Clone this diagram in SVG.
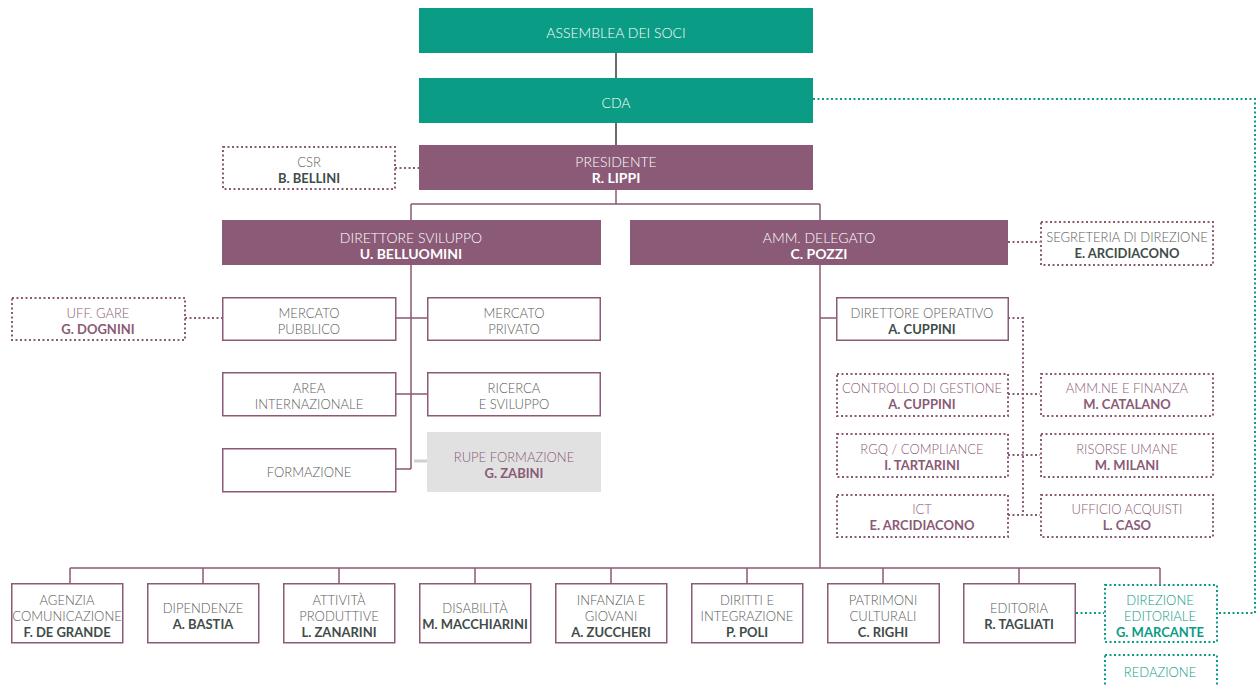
<svg xmlns="http://www.w3.org/2000/svg" width="1257" height="686" viewBox="0 0 1257 686">
<style>
.teal{fill:#0b9c85}
.purp{fill:#8a5a76}
.wbox{fill:#fff;stroke:#8a5a76;stroke-width:1.5}
.dbox{fill:#fff;stroke:#8a5a76;stroke-width:2;stroke-dasharray:2 2.5}
.gbox{fill:#fff;stroke:#0b9c85;stroke-width:2;stroke-dasharray:2 2.5}
.grey{fill:#e1e1e2}
.line{stroke:#8a5a76;stroke-width:1.5;fill:none}
.dark{stroke:#3a3a3a;stroke-width:1.5;fill:none}
.stub{stroke:#cfcfd1;stroke-width:3;fill:none}
.dline{stroke:#8a5a76;stroke-width:2;stroke-dasharray:2 2.5;fill:none}
.gline{stroke:#0b9c85;stroke-width:2;stroke-dasharray:2 2.5;fill:none}
text{font-family:Lato,"Open Sans","Liberation Sans",sans-serif;font-size:13px;text-anchor:middle}
.l{font-weight:300}
.b{font-weight:700}
.w{fill:#fff}
.g{fill:#5b5b5b}
.n{fill:#3f4c4a}
.p{fill:#8a5a76}
.t{fill:#0b9c85}
.big{font-size:14px}
</style>

<g id="connectors">
  <path class="dark" d="M616 53V78M616 123V145"/>
  <path class="line" d="M616 190V204M411 204H820M411 204V220M820 204V220"/>
  <path class="line" d="M411 265V469M396 318H427M396 394H427M396 469H411"/>
  <path class="stub" d="M414 461H427"/>
  <path class="line" d="M820 265V568M820 318H836"/>
  <path class="line" d="M70 568H1160M70 568V584M203 568V584M339 568V584M475 568V584M611 568V584M747 568V584M883 568V584M1019 568V584M1160 568V584"/>
  <path class="dline" d="M395 168H419M185 318H222M1008 242H1040"/>
  <path class="dline" d="M1008 318H1023V515M1008 394H1040M1008 455H1040M1008 515H1040"/>
  <path class="gline" d="M813 99H1255V613H1217M1076 613H1104"/>
</g>

<g id="assemblea"><rect class="teal" x="419" y="8" width="394" height="45"/><text class="l w big" x="616" y="38">ASSEMBLEA DEI SOCI</text></g>
<g id="cda"><rect class="teal" x="419" y="78" width="394" height="45"/><text class="l w big" x="616" y="108">CDA</text></g>
<g id="presidente"><rect class="purp" x="419" y="145" width="394" height="45"/><text class="l w big" x="616" y="167">PRESIDENTE</text><text class="b w big" x="616" y="183">R. LIPPI</text></g>
<g id="csr"><rect class="dbox" x="223" y="147" width="172" height="42"/><text class="l g" x="309" y="167">CSR</text><text class="b n" x="309" y="183">B. BELLINI</text></g>

<g id="dir-sviluppo"><rect class="purp" x="222" y="220" width="379" height="45"/><text class="l w big" x="411" y="243">DIRETTORE SVILUPPO</text><text class="b w big" x="411" y="259">U. BELLUOMINI</text></g>
<g id="amm-delegato"><rect class="purp" x="630" y="220" width="378" height="45"/><text class="l w big" x="819" y="243">AMM. DELEGATO</text><text class="b w big" x="819" y="259">C. POZZI</text></g>
<g id="segreteria"><rect class="dbox" x="1041" y="222" width="172" height="43"/><text class="l g" x="1127" y="242">SEGRETERIA DI DIREZIONE</text><text class="b n" x="1127" y="258">E. ARCIDIACONO</text></g>

<g id="uff-gare"><rect class="dbox" x="12" y="298" width="173" height="42"/><text class="l p" x="98" y="318">UFF. GARE</text><text class="b p" x="98" y="334">G. DOGNINI</text></g>
<g id="mercato-pubblico"><rect class="wbox" x="222.75" y="297.75" width="173" height="42.5"/><text class="l g" x="309" y="318">MERCATO</text><text class="l g" x="309" y="334">PUBBLICO</text></g>
<g id="mercato-privato"><rect class="wbox" x="427.75" y="297.75" width="172.5" height="42.5"/><text class="l g" x="514" y="318">MERCATO</text><text class="l g" x="514" y="334">PRIVATO</text></g>
<g id="area-internazionale"><rect class="wbox" x="222.75" y="372.75" width="173" height="43"/><text class="l g" x="309" y="393">AREA</text><text class="l g" x="309" y="409">INTERNAZIONALE</text></g>
<g id="ricerca-sviluppo"><rect class="wbox" x="427.75" y="372.75" width="172.5" height="43"/><text class="l g" x="514" y="393">RICERCA</text><text class="l g" x="514" y="409">E SVILUPPO</text></g>
<g id="formazione"><rect class="wbox" x="222.75" y="448.75" width="173" height="43"/><text class="l g" x="309" y="477">FORMAZIONE</text></g>
<g id="rupe-formazione"><rect class="grey" x="427" y="432" width="174" height="60"/><text class="l p" x="514" y="462">RUPE FORMAZIONE</text><text class="b p" x="514" y="478">G. ZABINI</text></g>

<g id="dir-operativo"><rect class="wbox" x="836.75" y="297.75" width="171.5" height="42.5"/><text class="l g" x="922" y="318">DIRETTORE OPERATIVO</text><text class="b n" x="922" y="334">A. CUPPINI</text></g>
<g id="controllo-gestione"><rect class="dbox" x="837" y="374" width="171" height="42"/><text class="l p" x="922" y="393">CONTROLLO DI GESTIONE</text><text class="b p" x="922" y="409">A. CUPPINI</text></g>
<g id="amm-finanza"><rect class="dbox" x="1041" y="374" width="172" height="42"/><text class="l p" x="1127" y="393">AMM.NE E FINANZA</text><text class="b p" x="1127" y="409">M. CATALANO</text></g>
<g id="rgq"><rect class="dbox" x="837" y="434" width="171" height="43"/><text class="l p" x="922" y="454">RGQ / COMPLIANCE</text><text class="b p" x="922" y="470">I. TARTARINI</text></g>
<g id="risorse-umane"><rect class="dbox" x="1041" y="434" width="172" height="43"/><text class="l p" x="1127" y="454">RISORSE UMANE</text><text class="b p" x="1127" y="470">M. MILANI</text></g>
<g id="ict"><rect class="dbox" x="837" y="495" width="171" height="42"/><text class="l p" x="922" y="514">ICT</text><text class="b p" x="922" y="530">E. ARCIDIACONO</text></g>
<g id="ufficio-acquisti"><rect class="dbox" x="1041" y="495" width="172" height="42"/><text class="l p" x="1127" y="514">UFFICIO ACQUISTI</text><text class="b p" x="1127" y="530">L. CASO</text></g>

<g id="agenzia"><rect class="wbox" x="11.75" y="583.75" width="111" height="59"/><text class="l g" x="67" y="605">AGENZIA</text><text class="l g" x="67" y="621">COMUNICAZIONE</text><text class="b n" x="67" y="637">F. DE GRANDE</text></g>
<g id="dipendenze"><rect class="wbox" x="147.75" y="583.75" width="111" height="59"/><text class="l g" x="203" y="613">DIPENDENZE</text><text class="b n" x="203" y="629">A. BASTIA</text></g>
<g id="attivita"><rect class="wbox" x="283.75" y="583.75" width="111" height="59"/><text class="l g" x="339" y="605">ATTIVITÀ</text><text class="l g" x="339" y="621">PRODUTTIVE</text><text class="b n" x="339" y="637">L. ZANARINI</text></g>
<g id="disabilita"><rect class="wbox" x="419.75" y="583.75" width="111" height="59"/><text class="l g" x="475" y="613">DISABILITÀ</text><text class="b n" x="475" y="629">M. MACCHIARINI</text></g>
<g id="infanzia"><rect class="wbox" x="555.75" y="583.75" width="111" height="59"/><text class="l g" x="611" y="605">INFANZIA E</text><text class="l g" x="611" y="621">GIOVANI</text><text class="b n" x="611" y="637">A. ZUCCHERI</text></g>
<g id="diritti"><rect class="wbox" x="691.75" y="583.75" width="111" height="59"/><text class="l g" x="747" y="605">DIRITTI E</text><text class="l g" x="747" y="621">INTEGRAZIONE</text><text class="b n" x="747" y="637">P. POLI</text></g>
<g id="patrimoni"><rect class="wbox" x="827.75" y="583.75" width="111.5" height="59"/><text class="l g" x="883" y="605">PATRIMONI</text><text class="l g" x="883" y="621">CULTURALI</text><text class="b n" x="883" y="637">C. RIGHI</text></g>
<g id="editoria"><rect class="wbox" x="963.75" y="583.75" width="111.5" height="59"/><text class="l g" x="1019" y="613">EDITORIA</text><text class="b n" x="1019" y="629">R. TAGLIATI</text></g>
<g id="direzione-editoriale"><rect class="gbox" x="1105" y="585" width="112" height="57"/><text class="l t" x="1160" y="605">DIREZIONE</text><text class="l t" x="1160" y="621">EDITORIALE</text><text class="b t" x="1160" y="637">G. MARCANTE</text></g>
<g id="redazione"><rect class="gbox" x="1105" y="655" width="112" height="40"/><text class="l t" x="1160" y="677">REDAZIONE</text></g>
</svg>
